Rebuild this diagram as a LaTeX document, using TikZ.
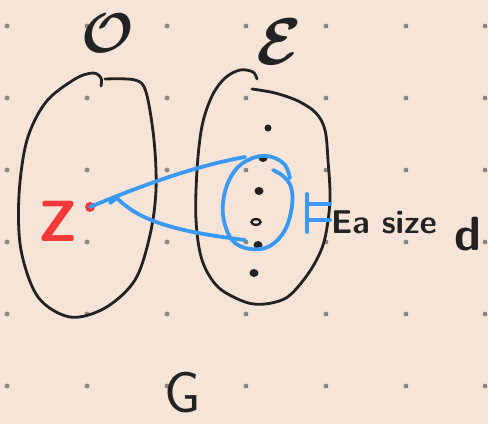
\RequirePackage{fix-cm}
\documentclass[tikz,border=0pt]{standalone}
\usepackage{amsmath}
\definecolor{bg}{HTML}{F5E4D7}
\definecolor{ink}{HTML}{222222}
\definecolor{pen}{HTML}{3A99F5}
\definecolor{redpen}{HTML}{F53838}
\definecolor{griddot}{HTML}{8C8580}
\tikzset{
  stroke/.style={draw=ink, line width=2.8pt, line cap=round, line join=round},
  bluestroke/.style={draw=pen, line width=3.8pt, line cap=round, line join=round},
  lbl/.style={inner sep=0pt, text=ink},
  ptdot/.style={fill=ink, ellipse, inner sep=0pt, minimum width=9pt, minimum height=8pt},
}
\usetikzlibrary{shapes.geometric}
\begin{document}
\begin{tikzpicture}[x=1pt,y=-1pt]
\fill[bg] (0,0) rectangle (488,424);
\useasboundingbox (0,0) rectangle (488,424);
% dot grid
\foreach \gx in {7,87,167,246,326,406,485}
  \foreach \gy in {26,98,170,242,314,386}
    \fill[griddot] (\gx,\gy) circle (2.4pt);
% labels
\node[lbl] (O) at (108,33) {\fontsize{56}{60}\selectfont$\boldsymbol{\mathcal{O}}$};
\node[lbl] (E) at (279,42) {\fontsize{66}{70}\selectfont$\boldsymbol{\mathcal{E}}$};
\node[lbl] (G) at (183,393) {\fontsize{58}{62}\selectfont\sffamily G};
\node[lbl, text=redpen] (Z) at (58,221) {\fontsize{58}{62}\selectfont\sffamily\bfseries Z};
% left set
\draw[stroke] plot[smooth, tension=0.55] coordinates {(101,86) (101,78) (93,73) (75,79) (46,102) (27,140) (19,195) (21,250) (38,297) (70,317) (105,308) (135,280) (150,235) (156,190) (154,140) (146,92) (135,80) (105,79)};
% right set
\draw[stroke] plot[smooth, tension=0.55] coordinates {(257,79) (253,72) (240,70) (225,78) (212,96) (202,126) (197,170) (196,220) (202,260) (218,287) (245,302) (265,304) (286,298) (302,282) (316,261) (325,238) (330,200) (328,160) (325,130) (316,113) (298,101) (275,93) (252,89)};
% points of E
\node[ptdot, minimum width=7pt, minimum height=7pt] (p1) at (268,128) {};
\node[ptdot] (p2) at (263,158) {};
\node[ptdot] (p3) at (259,191) {};
\node[draw=ink, line width=2.4pt, ellipse, inner sep=0pt, minimum width=9pt, minimum height=6pt] (p4) at (256,222) {};
\node[ptdot] (p5) at (258,245) {};
\node[ptdot] (p6) at (254,273) {};
% red point z
\node[circle, fill=redpen, inner sep=0pt, minimum size=10pt] (z) at (90,207) {};
% blue cone
\coordinate (up) at (245,157);
\coordinate (lo) at (245,240);
\draw[bluestroke] (z.center) .. controls (150,182) and (200,165) .. (up);
\draw[bluestroke] (110,203) -- (117,198) .. controls (140,222) and (180,232) .. (lo);
% blue circle around points
\draw[bluestroke] plot[smooth, tension=0.6] coordinates {(273,170) (283,176) (291,187) (292,206) (285,230) (270,246) (250,249) (232,240) (223,215) (226,188) (238,167) (256,157) (272,157) (285,165) (290,178)};
% bracket
\coordinate (b1) at (307,194);
\coordinate (b2) at (307,232);
\coordinate (b3) at (330,204);
\coordinate (b4) at (330,220);
\draw[bluestroke] (b1) -- (b2);
\draw[bluestroke] (b1 |- b3) -- (b3);
\draw[bluestroke] (b1 |- b4) -- (b4);
% size label
\node[lbl, anchor=base west] (sz) at (331,233) {\fontsize{33}{37}\selectfont\sffamily\bfseries Ea size};
\node[lbl, anchor=base west] (d) at (454,250) {\fontsize{48}{52}\selectfont\sffamily\bfseries d};
\end{tikzpicture}
\end{document}
